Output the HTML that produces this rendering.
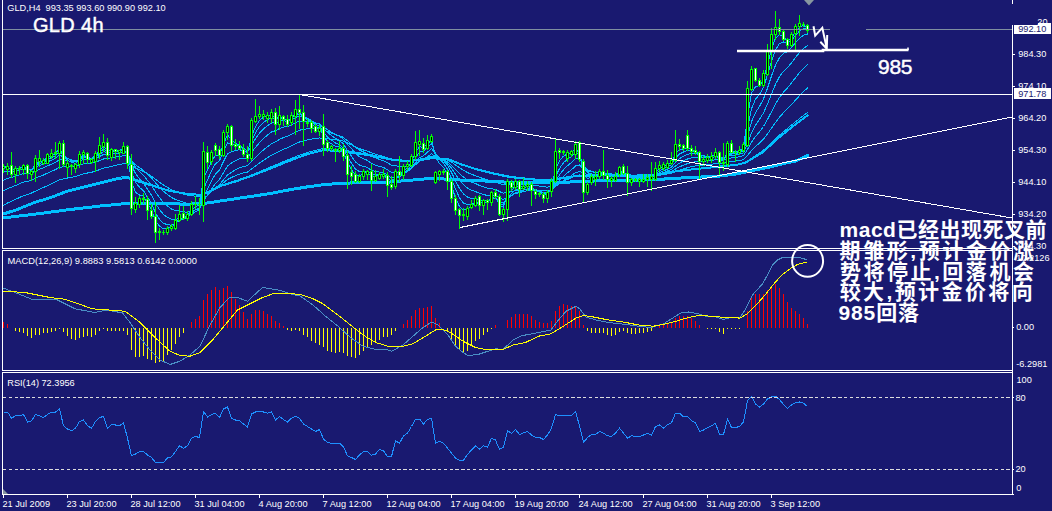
<!DOCTYPE html>
<html><head><meta charset="utf-8"><title>GLD H4</title>
<style>
html,body{margin:0;padding:0;background:#191970;}
body{width:1052px;height:511px;overflow:hidden;position:relative;font-family:"Liberation Sans",sans-serif;}
svg{position:absolute;left:0;top:0;display:block}
svg text{font-family:"Liberation Sans",sans-serif;font-size:9.2px;}
</style></head><body>
<svg width="1052" height="511" viewBox="0 0 1052 511">
<rect width="1052" height="511" fill="#191970"/>
<g id="ma" shape-rendering="crispEdges" fill="none" stroke="#00bfff" stroke-linejoin="round" stroke-linecap="round">
<polyline points="3.7,217.8 33.5,214.4 66.9,209.9 100.4,206.0 127.2,203.4 150.6,203.5 175.7,203.9 186.9,204.2 203.7,203.5 220.4,201.0 237.1,198.5 253.8,196.0 270.6,193.5 290.0,189.7 306.7,187.0 323.5,184.7 340.2,183.3 356.9,182.8 373.7,182.3 390.4,182.0 407.1,180.5 423.8,179.0 440.6,178.8 460.0,180.0 476.7,180.5 493.5,181.5 510.2,182.3 526.9,182.7 543.7,182.7 560.4,182.3 577.1,181.8 593.8,181.0 610.6,180.6 620.0,180.8 636.7,180.2 653.5,179.8 670.2,178.6 686.9,177.7 703.7,176.9 720.4,176.0 737.1,173.9 753.8,170.2 770.6,166.8 787.3,162.7 795.7,161.0 807.5,155.6" stroke-width="3"/>
<polyline points="3.7,214.4 16.7,210.2 33.5,203.2 50.2,198.2 66.9,191.8 83.7,187.6 100.4,183.5 117.1,179.3 127.2,177.8 136.7,181.0 153.5,186.0 170.2,191.0 186.9,193.8 200.3,194.8 207.0,192.7 220.4,186.0 237.1,181.0 253.8,175.1 270.6,168.4 287.3,161.7 295.7,158.4 306.7,154.4 323.5,150.2 340.2,151.0 356.9,153.5 373.7,156.0 390.4,159.4 407.1,161.0 417.1,160.2 432.2,158.2 448.9,159.4 460.0,164.0 476.7,169.3 493.5,173.5 510.2,176.8 526.9,178.8 543.7,180.2 553.7,179.8 560.4,178.2 577.1,176.0 593.8,175.2 610.6,175.5 620.0,176.0 636.7,175.5 653.5,174.9 670.2,172.2 686.9,169.9 703.7,168.2 720.4,166.5 737.1,164.8 745.5,162.7 753.8,157.6 762.2,152.6 770.6,145.1 778.9,137.6 787.3,130.9 795.7,124.2 807.5,115.5" stroke-width="2"/>
<polyline points="3.5,167.0 7.5,166.5 11.5,170.0 15.5,168.8 19.5,168.2 23.5,166.6 27.5,169.6 31.5,170.3 35.5,164.4 39.5,161.4 43.5,160.7 47.5,157.5 51.5,155.4 55.5,153.6 59.5,148.5 63.5,156.4 67.5,159.9 71.5,162.5 75.5,163.4 79.5,158.8 83.5,155.2 87.5,157.3 91.5,158.3 95.5,155.4 99.5,150.2 103.5,146.4 107.5,150.7 111.5,150.0 115.5,150.4 119.5,150.4 123.5,148.2 127.5,155.8 131.5,181.8 135.5,192.2 139.5,195.0 143.5,196.3 147.5,203.2 151.5,209.7 155.5,221.1 159.5,226.2 163.5,228.8 167.5,228.2 171.5,227.2 175.5,223.6 179.5,218.7 183.5,218.1 187.5,215.9 191.5,209.8 195.5,206.7 199.5,205.2 203.5,178.2 207.5,170.4 211.5,161.2 215.5,155.3 219.5,155.2 223.5,143.8 227.5,135.0 231.5,140.0 235.5,143.1 239.5,145.3 243.5,149.5 247.5,153.5 251.5,136.8 255.5,126.5 259.5,120.4 263.5,117.1 267.5,116.0 271.5,114.3 275.5,119.0 279.5,117.0 283.5,117.9 287.5,120.8 291.5,117.9 295.5,113.3 299.5,112.9 303.5,117.1 307.5,119.6 311.5,123.6 315.5,127.4 319.5,127.5 323.5,135.6 327.5,141.6 331.5,143.9 335.5,146.3 339.5,146.9 343.5,151.6 347.5,162.7 351.5,169.5 355.5,175.4 359.5,175.8 363.5,173.5 367.5,172.4 371.5,176.2 375.5,176.2 379.5,175.0 383.5,174.4 387.5,179.7 391.5,183.3 395.5,177.3 399.5,176.1 403.5,171.2 407.5,167.5 411.5,161.9 415.5,152.1 419.5,146.7 423.5,147.7 427.5,143.7 431.5,140.0 435.5,156.2 439.5,163.7 443.5,167.2 447.5,174.2 451.5,185.9 455.5,197.9 459.5,206.5 463.5,210.1 467.5,208.8 471.5,206.7 475.5,202.3 479.5,203.7 483.5,202.1 487.5,202.3 491.5,197.4 495.5,196.8 499.5,205.3 503.5,207.0 507.5,194.1 511.5,190.6 515.5,185.7 519.5,187.2 523.5,186.4 527.5,185.1 531.5,187.5 535.5,191.0 539.5,192.1 543.5,195.1 547.5,193.5 551.5,187.4 555.5,169.3 559.5,160.9 563.5,156.1 567.5,154.0 571.5,152.6 575.5,148.2 579.5,153.5 583.5,173.0 587.5,178.4 591.5,177.3 595.5,176.8 599.5,173.8 603.5,174.4 607.5,176.6 611.5,177.0 615.5,176.3 619.5,171.6 623.5,172.2 627.5,177.3 631.5,178.0 635.5,178.4 639.5,178.8 643.5,178.8 647.5,177.9 651.5,176.7 655.5,172.1 659.5,168.5 663.5,166.5 667.5,164.8 671.5,162.4 675.5,153.4 679.5,149.8 683.5,148.9 687.5,148.2 691.5,149.7 695.5,151.1 699.5,156.2 703.5,157.5 707.5,157.2 711.5,156.7 715.5,154.4 719.5,158.4 723.5,160.4 727.5,151.7 731.5,151.9 735.5,151.8 739.5,150.9 743.5,147.7 747.5,117.6 751.5,93.2 755.5,86.6 759.5,85.8 763.5,79.4 767.5,64.7 771.5,49.2 775.5,38.1 779.5,34.7 783.5,36.7 787.5,40.9 791.5,37.7 795.5,31.6 799.5,27.3 803.5,25.4 807.5,27.7" stroke-width="1"/>
<polyline points="3.5,168.0 7.5,167.3 11.5,169.4 15.5,168.8 19.5,168.4 23.5,167.3 27.5,169.1 31.5,169.7 35.5,165.9 39.5,163.4 43.5,162.3 47.5,159.6 51.5,157.5 55.5,155.6 59.5,151.5 63.5,155.8 67.5,158.3 71.5,160.6 75.5,161.8 79.5,159.3 83.5,156.8 87.5,157.6 91.5,158.2 95.5,156.3 99.5,152.5 103.5,149.2 107.5,151.2 111.5,150.5 115.5,150.6 119.5,150.6 123.5,149.0 127.5,153.8 131.5,171.8 135.5,182.1 139.5,187.3 143.5,190.8 147.5,197.2 151.5,203.5 155.5,213.2 159.5,219.2 163.5,223.3 167.5,224.7 171.5,225.2 175.5,223.5 179.5,220.2 183.5,219.3 187.5,217.5 191.5,212.9 195.5,209.8 199.5,207.7 203.5,188.9 207.5,180.1 211.5,170.7 215.5,163.7 219.5,160.8 223.5,151.3 227.5,143.0 231.5,143.7 235.5,144.5 239.5,145.5 243.5,148.3 247.5,151.3 251.5,140.9 255.5,132.7 259.5,126.5 263.5,122.3 267.5,119.8 271.5,117.4 275.5,119.5 279.5,118.0 283.5,118.3 287.5,120.1 291.5,118.4 295.5,115.2 299.5,114.3 303.5,116.6 307.5,118.5 311.5,121.5 315.5,124.7 319.5,125.7 323.5,131.7 327.5,137.0 331.5,140.1 335.5,143.0 339.5,144.5 343.5,148.4 347.5,156.8 351.5,163.3 355.5,169.3 359.5,171.6 363.5,171.5 367.5,171.4 371.5,174.3 375.5,174.9 379.5,174.5 383.5,174.3 387.5,177.9 391.5,180.9 395.5,177.7 399.5,176.8 403.5,173.3 407.5,170.1 411.5,165.5 415.5,157.7 419.5,152.2 423.5,151.1 427.5,147.3 431.5,143.6 435.5,153.2 439.5,159.2 443.5,163.1 447.5,169.1 451.5,178.6 455.5,189.1 459.5,197.7 463.5,203.1 467.5,204.5 471.5,204.5 475.5,202.4 479.5,203.2 483.5,202.3 487.5,202.4 491.5,199.1 495.5,198.1 499.5,203.3 503.5,205.1 507.5,197.2 511.5,193.8 515.5,189.4 519.5,189.2 523.5,188.0 527.5,186.6 531.5,187.7 535.5,190.0 539.5,191.1 543.5,193.4 547.5,192.9 551.5,189.0 555.5,176.4 559.5,168.5 563.5,162.7 567.5,159.1 571.5,156.5 575.5,152.3 579.5,154.4 583.5,167.1 587.5,172.7 591.5,173.9 595.5,174.7 599.5,173.4 603.5,173.9 607.5,175.5 611.5,176.2 615.5,176.0 619.5,173.0 623.5,172.9 627.5,176.1 631.5,177.0 635.5,177.6 639.5,178.1 643.5,178.3 647.5,177.9 651.5,177.1 655.5,173.9 659.5,170.9 663.5,168.8 667.5,166.9 671.5,164.6 675.5,157.9 679.5,154.0 683.5,152.0 687.5,150.5 691.5,150.8 695.5,151.3 699.5,154.6 703.5,156.0 707.5,156.3 711.5,156.3 715.5,154.9 719.5,157.4 723.5,159.1 727.5,153.7 731.5,153.1 735.5,152.7 739.5,151.8 743.5,149.4 747.5,128.7 751.5,108.7 755.5,99.2 759.5,94.4 763.5,87.3 767.5,74.9 771.5,61.2 775.5,49.8 779.5,43.6 783.5,42.0 787.5,43.0 791.5,40.2 795.5,35.3 799.5,31.2 803.5,28.6 807.5,29.1" stroke-width="1"/>
<polyline points="3.5,172.3 7.5,170.9 11.5,171.5 15.5,170.6 19.5,169.9 23.5,168.9 27.5,169.7 31.5,170.0 35.5,167.4 39.5,165.4 43.5,164.2 47.5,162.0 51.5,160.1 55.5,158.2 59.5,154.9 63.5,157.0 67.5,158.4 71.5,159.9 75.5,160.9 79.5,159.4 83.5,157.7 87.5,158.0 91.5,158.3 95.5,157.1 99.5,154.4 103.5,151.7 107.5,152.5 111.5,151.8 115.5,151.6 119.5,151.3 123.5,150.1 127.5,153.1 131.5,165.2 135.5,173.6 139.5,178.9 143.5,183.1 147.5,189.1 151.5,195.1 155.5,203.4 159.5,209.6 163.5,214.5 167.5,217.4 171.5,219.3 175.5,219.5 179.5,218.2 183.5,218.0 187.5,217.1 191.5,214.1 195.5,211.8 199.5,210.0 203.5,196.9 207.5,189.3 211.5,181.0 215.5,174.0 219.5,169.8 223.5,161.5 227.5,153.7 231.5,151.7 235.5,150.5 239.5,149.8 243.5,150.7 247.5,152.2 251.5,145.1 255.5,138.7 259.5,133.2 263.5,128.9 267.5,125.8 271.5,122.9 275.5,123.1 279.5,121.3 283.5,120.7 287.5,121.4 291.5,120.0 295.5,117.5 299.5,116.4 303.5,117.5 307.5,118.5 311.5,120.5 315.5,122.9 319.5,123.9 323.5,128.3 327.5,132.6 331.5,135.6 335.5,138.5 339.5,140.5 343.5,144.0 347.5,150.6 351.5,156.3 355.5,161.9 359.5,165.1 363.5,166.4 367.5,167.5 371.5,170.3 375.5,171.6 379.5,172.1 383.5,172.5 387.5,175.2 391.5,177.9 395.5,176.4 399.5,176.1 403.5,173.9 407.5,171.6 411.5,168.2 415.5,162.4 419.5,157.7 423.5,155.7 427.5,152.2 431.5,148.6 435.5,153.9 439.5,157.8 443.5,160.7 447.5,165.2 451.5,172.4 455.5,180.8 459.5,188.4 463.5,194.0 467.5,197.0 471.5,198.7 475.5,198.5 479.5,200.0 483.5,200.1 487.5,200.6 491.5,198.8 495.5,198.2 499.5,201.7 503.5,203.3 507.5,198.4 511.5,195.8 515.5,192.5 519.5,191.7 523.5,190.3 527.5,188.8 531.5,189.1 535.5,190.3 539.5,191.0 543.5,192.5 547.5,192.4 551.5,189.9 555.5,181.3 559.5,174.9 563.5,169.7 567.5,165.7 571.5,162.5 575.5,158.3 579.5,158.4 583.5,166.0 587.5,169.9 591.5,171.3 595.5,172.4 599.5,172.1 603.5,172.7 607.5,174.1 611.5,174.8 615.5,175.0 619.5,173.2 623.5,173.1 627.5,175.2 631.5,176.0 635.5,176.6 639.5,177.2 643.5,177.5 647.5,177.4 651.5,177.0 655.5,174.9 659.5,172.7 663.5,170.9 667.5,169.1 671.5,167.1 675.5,162.1 679.5,158.6 683.5,156.2 687.5,154.3 691.5,153.6 695.5,153.4 699.5,155.1 703.5,155.9 707.5,156.2 711.5,156.2 715.5,155.3 719.5,156.9 723.5,158.1 727.5,154.7 731.5,154.1 735.5,153.6 739.5,152.8 743.5,151.0 747.5,136.9 751.5,121.7 755.5,112.5 759.5,106.4 763.5,98.9 767.5,88.1 771.5,76.0 775.5,65.1 779.5,57.6 783.5,53.4 787.5,51.5 791.5,47.7 795.5,42.8 799.5,38.4 803.5,35.1 807.5,34.0" stroke-width="1"/>
<polyline points="3.5,180.3 7.5,178.3 11.5,177.6 15.5,176.2 19.5,174.9 23.5,173.5 27.5,173.4 31.5,173.1 35.5,171.0 39.5,169.2 43.5,167.9 47.5,165.9 51.5,164.1 55.5,162.4 59.5,159.6 63.5,160.3 67.5,160.8 71.5,161.4 75.5,161.8 79.5,160.7 83.5,159.4 87.5,159.4 91.5,159.4 95.5,158.4 99.5,156.5 103.5,154.5 107.5,154.6 111.5,153.8 115.5,153.4 119.5,153.0 123.5,152.0 127.5,153.6 131.5,161.3 135.5,167.2 139.5,171.6 143.5,175.3 147.5,180.3 151.5,185.4 155.5,192.1 159.5,197.7 163.5,202.6 167.5,206.1 171.5,209.0 175.5,210.6 179.5,211.0 183.5,211.9 187.5,212.2 191.5,211.0 195.5,209.9 199.5,209.0 203.5,200.8 207.5,195.3 211.5,189.1 215.5,183.5 219.5,179.4 223.5,172.7 227.5,166.1 231.5,163.1 235.5,160.7 239.5,158.8 243.5,158.1 247.5,158.0 251.5,152.6 255.5,147.4 259.5,142.6 263.5,138.5 267.5,135.1 271.5,131.9 275.5,130.7 279.5,128.5 283.5,127.1 287.5,126.6 291.5,125.0 295.5,122.6 299.5,121.2 303.5,121.2 307.5,121.3 311.5,122.2 315.5,123.5 319.5,124.1 323.5,126.9 327.5,129.8 331.5,132.2 335.5,134.5 339.5,136.4 343.5,139.2 347.5,144.2 351.5,148.7 355.5,153.4 359.5,156.7 363.5,158.7 367.5,160.5 371.5,163.3 375.5,165.2 379.5,166.4 383.5,167.4 387.5,169.9 391.5,172.4 395.5,172.2 399.5,172.6 403.5,171.7 407.5,170.6 411.5,168.5 415.5,164.8 419.5,161.4 423.5,159.6 427.5,156.8 431.5,153.8 435.5,156.5 439.5,158.6 443.5,160.3 447.5,163.3 451.5,168.2 455.5,174.2 459.5,180.0 463.5,184.8 467.5,188.1 471.5,190.4 475.5,191.5 479.5,193.4 483.5,194.4 487.5,195.6 491.5,195.2 495.5,195.3 499.5,197.9 503.5,199.5 507.5,196.9 511.5,195.5 515.5,193.4 519.5,192.7 523.5,191.7 527.5,190.5 531.5,190.5 535.5,191.0 539.5,191.4 543.5,192.3 547.5,192.3 551.5,190.7 555.5,185.1 559.5,180.4 563.5,176.2 567.5,172.8 571.5,169.7 575.5,166.0 579.5,165.0 583.5,168.9 587.5,171.0 591.5,171.8 595.5,172.4 599.5,172.2 603.5,172.6 607.5,173.5 611.5,174.0 615.5,174.2 619.5,173.2 623.5,173.1 627.5,174.5 631.5,175.1 635.5,175.6 639.5,176.1 643.5,176.5 647.5,176.6 651.5,176.4 655.5,175.1 659.5,173.7 663.5,172.4 667.5,171.0 671.5,169.5 675.5,165.9 679.5,163.1 683.5,160.9 687.5,159.0 691.5,157.9 695.5,157.1 699.5,157.7 703.5,157.9 707.5,157.7 711.5,157.5 715.5,156.7 719.5,157.6 723.5,158.3 727.5,156.1 731.5,155.5 735.5,155.0 739.5,154.3 743.5,152.9 747.5,143.5 751.5,132.8 755.5,125.3 759.5,119.5 763.5,112.9 767.5,103.9 771.5,93.9 775.5,84.3 779.5,76.7 783.5,71.3 787.5,67.6 791.5,62.8 795.5,57.5 799.5,52.6 803.5,48.4 807.5,45.8" stroke-width="1"/>
<polyline points="3.5,190.9 7.5,188.6 11.5,187.3 15.5,185.5 19.5,183.8 23.5,182.1 27.5,181.3 31.5,180.3 35.5,178.3 39.5,176.5 43.5,175.0 47.5,173.1 51.5,171.4 55.5,169.6 59.5,167.2 63.5,166.9 67.5,166.6 71.5,166.5 75.5,166.3 79.5,165.2 83.5,163.9 87.5,163.5 91.5,163.1 95.5,162.2 99.5,160.6 103.5,159.0 107.5,158.6 111.5,157.8 115.5,157.1 119.5,156.5 123.5,155.6 127.5,156.3 131.5,161.0 135.5,164.8 139.5,167.7 143.5,170.5 147.5,174.1 151.5,177.9 155.5,182.9 159.5,187.3 163.5,191.3 167.5,194.6 171.5,197.5 175.5,199.5 179.5,200.8 183.5,202.3 187.5,203.4 191.5,203.4 195.5,203.4 199.5,203.4 203.5,198.7 207.5,195.4 211.5,191.4 215.5,187.6 219.5,184.7 223.5,179.9 227.5,175.0 231.5,172.3 235.5,169.9 239.5,167.9 243.5,166.6 247.5,165.8 251.5,161.6 255.5,157.5 259.5,153.6 263.5,149.9 267.5,146.8 271.5,143.7 275.5,141.8 279.5,139.4 283.5,137.5 287.5,136.3 291.5,134.3 295.5,132.0 299.5,130.2 303.5,129.4 307.5,128.8 311.5,128.7 315.5,128.9 319.5,128.8 323.5,130.1 327.5,131.7 331.5,133.0 335.5,134.5 339.5,135.6 343.5,137.5 347.5,140.8 351.5,144.0 355.5,147.4 359.5,150.0 363.5,152.0 367.5,153.7 371.5,156.1 375.5,157.9 379.5,159.4 383.5,160.7 387.5,162.9 391.5,165.1 395.5,165.6 399.5,166.5 403.5,166.5 407.5,166.2 411.5,165.3 415.5,163.2 419.5,161.2 423.5,160.1 427.5,158.2 431.5,156.2 435.5,157.7 439.5,158.9 443.5,160.0 447.5,162.0 451.5,165.2 455.5,169.3 459.5,173.4 463.5,177.1 467.5,179.9 471.5,182.1 475.5,183.5 479.5,185.5 483.5,186.9 487.5,188.3 491.5,188.7 495.5,189.4 499.5,191.6 503.5,193.1 507.5,192.1 511.5,191.6 515.5,190.6 519.5,190.4 523.5,190.0 527.5,189.4 531.5,189.5 535.5,189.9 539.5,190.2 543.5,190.9 547.5,191.0 551.5,190.1 555.5,186.6 559.5,183.5 563.5,180.6 567.5,178.0 571.5,175.5 575.5,172.7 579.5,171.4 583.5,173.3 587.5,174.3 591.5,174.4 595.5,174.6 599.5,174.3 603.5,174.3 607.5,174.7 611.5,175.0 615.5,175.0 619.5,174.3 623.5,174.2 627.5,174.9 631.5,175.3 635.5,175.6 639.5,175.9 643.5,176.2 647.5,176.2 651.5,176.2 655.5,175.4 659.5,174.4 663.5,173.5 667.5,172.6 671.5,171.4 675.5,169.0 679.5,166.9 683.5,165.2 687.5,163.6 691.5,162.5 695.5,161.6 699.5,161.5 703.5,161.3 707.5,160.9 711.5,160.5 715.5,159.7 719.5,160.0 723.5,160.2 727.5,158.6 731.5,158.0 735.5,157.4 739.5,156.8 743.5,155.7 747.5,149.5 751.5,142.1 755.5,136.5 759.5,131.8 763.5,126.5 767.5,119.5 771.5,111.7 775.5,104.0 779.5,97.4 783.5,92.1 787.5,87.8 791.5,82.9 795.5,77.7 799.5,72.7 803.5,68.3 807.5,64.8" stroke-width="1"/>
<polyline points="3.5,205.2 7.5,203.0 11.5,201.3 15.5,199.4 19.5,197.5 23.5,195.7 27.5,194.4 31.5,193.0 35.5,191.1 39.5,189.2 43.5,187.5 47.5,185.6 51.5,183.8 55.5,181.9 59.5,179.7 63.5,178.9 67.5,178.0 71.5,177.2 75.5,176.5 79.5,175.2 83.5,173.9 87.5,173.0 91.5,172.3 95.5,171.1 99.5,169.6 103.5,168.1 107.5,167.4 111.5,166.3 115.5,165.4 119.5,164.6 123.5,163.5 127.5,163.5 131.5,166.0 135.5,168.1 139.5,169.8 143.5,171.4 147.5,173.6 151.5,176.1 155.5,179.3 159.5,182.2 163.5,185.1 167.5,187.5 171.5,189.7 175.5,191.4 179.5,192.7 183.5,194.1 187.5,195.2 191.5,195.7 195.5,196.2 199.5,196.6 203.5,194.0 207.5,192.2 211.5,189.9 215.5,187.6 219.5,185.7 223.5,182.7 227.5,179.5 231.5,177.5 235.5,175.7 239.5,174.1 243.5,172.9 247.5,172.1 251.5,169.1 255.5,166.1 259.5,163.1 263.5,160.3 267.5,157.7 271.5,155.1 275.5,153.3 279.5,151.1 283.5,149.3 287.5,147.8 291.5,145.9 295.5,143.8 299.5,142.0 303.5,140.8 307.5,139.8 311.5,139.1 315.5,138.6 319.5,138.0 323.5,138.3 327.5,138.8 331.5,139.3 335.5,139.8 339.5,140.3 343.5,141.2 347.5,143.0 351.5,144.9 355.5,147.0 359.5,148.7 363.5,150.0 367.5,151.2 371.5,152.8 375.5,154.2 379.5,155.3 383.5,156.3 387.5,158.0 391.5,159.6 395.5,160.3 399.5,161.1 403.5,161.4 407.5,161.6 411.5,161.3 415.5,160.2 419.5,159.1 423.5,158.5 427.5,157.4 431.5,156.2 435.5,157.1 439.5,158.0 443.5,158.7 447.5,160.0 451.5,162.1 455.5,164.9 459.5,167.7 463.5,170.4 467.5,172.5 471.5,174.3 475.5,175.7 479.5,177.3 483.5,178.7 487.5,180.0 491.5,180.7 495.5,181.6 499.5,183.5 503.5,184.9 507.5,184.7 511.5,184.8 515.5,184.6 519.5,184.8 523.5,184.9 527.5,184.8 531.5,185.1 535.5,185.6 539.5,186.1 543.5,186.8 547.5,187.1 551.5,186.7 555.5,184.7 559.5,182.9 563.5,181.1 567.5,179.4 571.5,177.8 575.5,175.8 579.5,174.9 583.5,175.9 587.5,176.3 591.5,176.3 595.5,176.3 599.5,176.0 603.5,175.9 607.5,176.1 611.5,176.2 615.5,176.1 619.5,175.6 623.5,175.5 627.5,175.9 631.5,176.0 635.5,176.2 639.5,176.4 643.5,176.5 647.5,176.5 651.5,176.5 655.5,175.9 659.5,175.3 663.5,174.7 667.5,174.0 671.5,173.2 675.5,171.6 679.5,170.1 683.5,168.9 687.5,167.7 691.5,166.7 695.5,165.9 699.5,165.6 703.5,165.2 707.5,164.8 711.5,164.3 715.5,163.6 719.5,163.5 723.5,163.5 727.5,162.3 731.5,161.7 735.5,161.1 739.5,160.5 743.5,159.6 747.5,155.5 751.5,150.5 755.5,146.5 759.5,143.0 763.5,139.0 767.5,133.9 771.5,128.2 775.5,122.4 779.5,117.2 783.5,112.7 787.5,108.8 791.5,104.6 795.5,100.1 799.5,95.7 803.5,91.5 807.5,88.0" stroke-width="1"/>
<polyline points="3.5,212.8 7.5,211.6 11.5,210.4 15.5,209.1 19.5,207.6 23.5,205.9 27.5,204.3 31.5,202.7 35.5,201.2 39.5,200.0 43.5,198.8 47.5,197.6 51.5,196.3 55.5,194.7 59.5,193.1 63.5,191.6 67.5,190.1 71.5,189.2 75.5,188.2 79.5,187.1 83.5,186.1 87.5,185.1 91.5,184.2 95.5,183.2 99.5,182.2 103.5,181.1 107.5,180.1 111.5,179.1 115.5,178.1 119.5,177.3 123.5,176.7 127.5,176.3 131.5,177.8 135.5,179.2 139.5,180.6 143.5,181.8 147.5,183.2 151.5,184.5 155.5,185.8 159.5,187.2 163.5,188.5 167.5,189.8 171.5,190.9 175.5,191.7 179.5,192.4 183.5,193.2 187.5,193.8 191.5,194.1 195.5,194.5 199.5,194.8 203.5,193.7 207.5,192.3 211.5,190.2 215.5,188.2 219.5,186.1 223.5,184.6 227.5,183.3 231.5,182.0 235.5,180.7 239.5,179.4 243.5,177.9 247.5,176.5 251.5,175.0 255.5,173.4 259.5,171.7 263.5,170.0 267.5,168.3 271.5,166.6 275.5,165.0 279.5,163.3 283.5,161.6 287.5,160.0 291.5,158.4 295.5,156.7 299.5,155.2 303.5,153.8 307.5,152.4 311.5,151.4 315.5,150.4 319.5,149.4 323.5,148.4 327.5,148.7 331.5,148.9 335.5,149.2 339.5,149.4 343.5,150.0 347.5,150.7 351.5,151.4 355.5,152.1 359.5,152.8 363.5,153.5 367.5,154.2 371.5,154.8 375.5,155.6 379.5,156.5 383.5,157.4 387.5,158.3 391.5,159.1 395.5,159.5 399.5,159.9 403.5,160.3 407.5,160.7 411.5,160.3 415.5,160.0 419.5,159.5 423.5,159.0 427.5,158.4 431.5,157.8 435.5,158.0 439.5,158.4 443.5,158.7 447.5,159.0 451.5,160.3 455.5,162.1 459.5,163.9 463.5,165.3 467.5,166.7 471.5,168.0 475.5,169.3 479.5,170.5 483.5,171.5 487.5,172.6 491.5,173.6 495.5,174.5 499.5,175.4 503.5,176.2 507.5,177.0 511.5,177.7 515.5,178.2 519.5,178.6 523.5,179.1 527.5,179.6 531.5,179.9 535.5,180.2 539.5,180.6 543.5,180.9 547.5,180.8 551.5,180.6 555.5,180.0 559.5,179.0 563.5,178.3 567.5,177.7 571.5,177.0 575.5,176.4 579.5,176.1 583.5,175.9 587.5,175.7 591.5,175.5 595.5,175.4 599.5,175.5 603.5,175.6 607.5,175.6 611.5,175.7 615.5,175.9 619.5,176.1 623.5,176.0 627.5,175.9 631.5,175.8 635.5,175.7 639.5,175.6 643.5,175.4 647.5,175.3 651.5,175.1 655.5,174.7 659.5,174.0 663.5,173.4 667.5,172.7 671.5,172.0 675.5,171.4 679.5,170.8 683.5,170.2 687.5,169.6 691.5,169.2 695.5,168.7 699.5,168.3 703.5,167.9 707.5,167.5 711.5,167.1 715.5,166.6 719.5,166.2 723.5,165.8 727.5,165.4 731.5,164.9 735.5,164.5 739.5,163.7 743.5,162.7 747.5,160.8 751.5,158.2 755.5,155.6 759.5,153.1 763.5,150.2 767.5,146.4 771.5,142.6 775.5,138.8 779.5,135.0 783.5,131.7 787.5,128.4 791.5,125.0 795.5,121.7 799.5,118.6 803.5,115.5 807.5,112.5" stroke-width="1"/>
</g>
<g id="candles" shape-rendering="crispEdges">
<rect x="3" y="164" width="1" height="9" fill="#00ff00"/><rect x="2" y="166" width="3" height="3" fill="#00ff00"/><rect x="3" y="167" width="1" height="1" fill="#000"/><rect x="7" y="163" width="1" height="12" fill="#00ff00"/><rect x="6" y="166" width="3" height="4" fill="#00ff00"/><rect x="7" y="167" width="1" height="2" fill="#000"/><rect x="11" y="152" width="1" height="26" fill="#00ff00"/><rect x="10" y="165" width="3" height="10" fill="#00ff00"/><rect x="11" y="166" width="1" height="8" fill="#ffffff"/><rect x="15" y="166" width="1" height="17" fill="#00ff00"/><rect x="14" y="168" width="3" height="7" fill="#00ff00"/><rect x="15" y="169" width="1" height="5" fill="#000"/><rect x="19" y="166" width="1" height="9" fill="#00ff00"/><rect x="18" y="168" width="3" height="2" fill="#00ff00"/><rect x="23" y="164" width="1" height="11" fill="#00ff00"/><rect x="22" y="165" width="3" height="5" fill="#00ff00"/><rect x="23" y="166" width="1" height="3" fill="#000"/><rect x="27" y="164" width="1" height="15" fill="#00ff00"/><rect x="26" y="165" width="3" height="9" fill="#00ff00"/><rect x="27" y="166" width="1" height="7" fill="#ffffff"/><rect x="31" y="170" width="1" height="11" fill="#00ff00"/><rect x="30" y="171" width="3" height="4" fill="#00ff00"/><rect x="31" y="172" width="1" height="2" fill="#000"/><rect x="35" y="155" width="1" height="27" fill="#00ff00"/><rect x="34" y="158" width="3" height="14" fill="#00ff00"/><rect x="35" y="159" width="1" height="12" fill="#000"/><rect x="39" y="150" width="1" height="17" fill="#00ff00"/><rect x="38" y="158" width="3" height="4" fill="#00ff00"/><rect x="39" y="159" width="1" height="2" fill="#000"/><rect x="43" y="158" width="1" height="7" fill="#00ff00"/><rect x="42" y="160" width="3" height="4" fill="#00ff00"/><rect x="43" y="161" width="1" height="2" fill="#000"/><rect x="47" y="153" width="1" height="11" fill="#00ff00"/><rect x="46" y="154" width="3" height="10" fill="#00ff00"/><rect x="47" y="155" width="1" height="8" fill="#000"/><rect x="51" y="149" width="1" height="10" fill="#00ff00"/><rect x="50" y="153" width="3" height="4" fill="#00ff00"/><rect x="51" y="154" width="1" height="2" fill="#000"/><rect x="55" y="142" width="1" height="17" fill="#00ff00"/><rect x="54" y="152" width="3" height="2" fill="#00ff00"/><rect x="59" y="141" width="1" height="28" fill="#00ff00"/><rect x="58" y="143" width="3" height="11" fill="#00ff00"/><rect x="59" y="144" width="1" height="9" fill="#000"/><rect x="63" y="140" width="1" height="27" fill="#00ff00"/><rect x="62" y="143" width="3" height="22" fill="#00ff00"/><rect x="63" y="144" width="1" height="20" fill="#ffffff"/><rect x="67" y="160" width="1" height="17" fill="#00ff00"/><rect x="66" y="163" width="3" height="5" fill="#00ff00"/><rect x="67" y="164" width="1" height="3" fill="#000"/><rect x="71" y="164" width="1" height="11" fill="#00ff00"/><rect x="70" y="165" width="3" height="2" fill="#00ff00"/><rect x="75" y="163" width="1" height="10" fill="#00ff00"/><rect x="74" y="164" width="3" height="5" fill="#00ff00"/><rect x="75" y="165" width="1" height="3" fill="#000"/><rect x="79" y="151" width="1" height="17" fill="#00ff00"/><rect x="78" y="154" width="3" height="11" fill="#00ff00"/><rect x="79" y="155" width="1" height="9" fill="#000"/><rect x="83" y="150" width="1" height="14" fill="#00ff00"/><rect x="82" y="152" width="3" height="3" fill="#00ff00"/><rect x="83" y="153" width="1" height="1" fill="#000"/><rect x="87" y="152" width="1" height="12" fill="#00ff00"/><rect x="86" y="153" width="3" height="7" fill="#00ff00"/><rect x="87" y="154" width="1" height="5" fill="#ffffff"/><rect x="91" y="158" width="1" height="6" fill="#00ff00"/><rect x="90" y="159" width="3" height="4" fill="#00ff00"/><rect x="91" y="160" width="1" height="2" fill="#000"/><rect x="95" y="151" width="1" height="21" fill="#00ff00"/><rect x="94" y="153" width="3" height="9" fill="#00ff00"/><rect x="95" y="154" width="1" height="7" fill="#000"/><rect x="99" y="137" width="1" height="22" fill="#00ff00"/><rect x="98" y="145" width="3" height="9" fill="#00ff00"/><rect x="99" y="146" width="1" height="7" fill="#000"/><rect x="103" y="134" width="1" height="18" fill="#00ff00"/><rect x="102" y="142" width="3" height="5" fill="#00ff00"/><rect x="103" y="143" width="1" height="3" fill="#000"/><rect x="107" y="138" width="1" height="22" fill="#00ff00"/><rect x="106" y="142" width="3" height="14" fill="#00ff00"/><rect x="107" y="143" width="1" height="12" fill="#ffffff"/><rect x="111" y="148" width="1" height="13" fill="#00ff00"/><rect x="110" y="149" width="3" height="9" fill="#00ff00"/><rect x="111" y="150" width="1" height="7" fill="#000"/><rect x="115" y="149" width="1" height="10" fill="#00ff00"/><rect x="114" y="149" width="3" height="3" fill="#00ff00"/><rect x="115" y="150" width="1" height="1" fill="#ffffff"/><rect x="119" y="150" width="1" height="10" fill="#00ff00"/><rect x="118" y="150" width="3" height="3" fill="#00ff00"/><rect x="119" y="151" width="1" height="1" fill="#000"/><rect x="123" y="142" width="1" height="12" fill="#00ff00"/><rect x="122" y="146" width="3" height="8" fill="#00ff00"/><rect x="123" y="147" width="1" height="6" fill="#000"/><rect x="127" y="145" width="1" height="24" fill="#00ff00"/><rect x="126" y="146" width="3" height="18" fill="#00ff00"/><rect x="127" y="147" width="1" height="16" fill="#ffffff"/><rect x="131" y="154" width="1" height="61" fill="#00ff00"/><rect x="130" y="164" width="3" height="45" fill="#00ff00"/><rect x="131" y="165" width="1" height="43" fill="#ffffff"/><rect x="135" y="197" width="1" height="16" fill="#00ff00"/><rect x="134" y="203" width="3" height="7" fill="#00ff00"/><rect x="135" y="204" width="1" height="5" fill="#000"/><rect x="139" y="196" width="1" height="12" fill="#00ff00"/><rect x="138" y="198" width="3" height="7" fill="#00ff00"/><rect x="139" y="199" width="1" height="5" fill="#000"/><rect x="143" y="193" width="1" height="11" fill="#00ff00"/><rect x="142" y="198" width="3" height="2" fill="#00ff00"/><rect x="147" y="196" width="1" height="24" fill="#00ff00"/><rect x="146" y="199" width="3" height="12" fill="#00ff00"/><rect x="147" y="200" width="1" height="10" fill="#ffffff"/><rect x="151" y="204" width="1" height="15" fill="#00ff00"/><rect x="150" y="210" width="3" height="7" fill="#00ff00"/><rect x="151" y="211" width="1" height="5" fill="#ffffff"/><rect x="155" y="202" width="1" height="41" fill="#00ff00"/><rect x="154" y="216" width="3" height="17" fill="#00ff00"/><rect x="155" y="217" width="1" height="15" fill="#ffffff"/><rect x="159" y="228" width="1" height="12" fill="#00ff00"/><rect x="158" y="231" width="3" height="2" fill="#00ff00"/><rect x="163" y="230" width="1" height="5" fill="#00ff00"/><rect x="162" y="232" width="3" height="1" fill="#00ff00"/><rect x="167" y="226" width="1" height="9" fill="#00ff00"/><rect x="166" y="228" width="3" height="5" fill="#00ff00"/><rect x="167" y="229" width="1" height="3" fill="#000"/><rect x="171" y="224" width="1" height="7" fill="#00ff00"/><rect x="170" y="226" width="3" height="3" fill="#00ff00"/><rect x="171" y="227" width="1" height="1" fill="#000"/><rect x="175" y="214" width="1" height="16" fill="#00ff00"/><rect x="174" y="220" width="3" height="9" fill="#00ff00"/><rect x="175" y="221" width="1" height="7" fill="#000"/><rect x="179" y="205" width="1" height="17" fill="#00ff00"/><rect x="178" y="214" width="3" height="7" fill="#00ff00"/><rect x="179" y="215" width="1" height="5" fill="#000"/><rect x="183" y="206" width="1" height="14" fill="#00ff00"/><rect x="182" y="213" width="3" height="6" fill="#00ff00"/><rect x="183" y="214" width="1" height="4" fill="#ffffff"/><rect x="187" y="211" width="1" height="10" fill="#00ff00"/><rect x="186" y="214" width="3" height="5" fill="#00ff00"/><rect x="187" y="215" width="1" height="3" fill="#000"/><rect x="191" y="201" width="1" height="15" fill="#00ff00"/><rect x="190" y="204" width="3" height="11" fill="#00ff00"/><rect x="191" y="205" width="1" height="9" fill="#000"/><rect x="195" y="196" width="1" height="13" fill="#00ff00"/><rect x="194" y="204" width="3" height="1" fill="#00ff00"/><rect x="199" y="198" width="1" height="17" fill="#00ff00"/><rect x="198" y="204" width="3" height="1" fill="#00ff00"/><rect x="203" y="142" width="1" height="80" fill="#00ff00"/><rect x="202" y="151" width="3" height="55" fill="#00ff00"/><rect x="203" y="152" width="1" height="53" fill="#000"/><rect x="207" y="146" width="1" height="23" fill="#00ff00"/><rect x="206" y="152" width="3" height="11" fill="#00ff00"/><rect x="207" y="153" width="1" height="9" fill="#ffffff"/><rect x="211" y="150" width="1" height="15" fill="#00ff00"/><rect x="210" y="152" width="3" height="10" fill="#00ff00"/><rect x="211" y="153" width="1" height="8" fill="#000"/><rect x="215" y="143" width="1" height="13" fill="#00ff00"/><rect x="214" y="145" width="3" height="6" fill="#00ff00"/><rect x="215" y="146" width="1" height="4" fill="#ffffff"/><rect x="219" y="146" width="1" height="13" fill="#00ff00"/><rect x="218" y="149" width="3" height="7" fill="#00ff00"/><rect x="219" y="150" width="1" height="5" fill="#ffffff"/><rect x="223" y="130" width="1" height="27" fill="#00ff00"/><rect x="222" y="132" width="3" height="24" fill="#00ff00"/><rect x="223" y="133" width="1" height="22" fill="#000"/><rect x="227" y="124" width="1" height="16" fill="#00ff00"/><rect x="226" y="126" width="3" height="7" fill="#00ff00"/><rect x="227" y="127" width="1" height="5" fill="#000"/><rect x="231" y="125" width="1" height="26" fill="#00ff00"/><rect x="230" y="126" width="3" height="20" fill="#00ff00"/><rect x="231" y="127" width="1" height="18" fill="#ffffff"/><rect x="235" y="139" width="1" height="11" fill="#00ff00"/><rect x="234" y="144" width="3" height="3" fill="#00ff00"/><rect x="235" y="145" width="1" height="1" fill="#ffffff"/><rect x="239" y="141" width="1" height="9" fill="#00ff00"/><rect x="238" y="145" width="3" height="4" fill="#00ff00"/><rect x="239" y="146" width="1" height="2" fill="#ffffff"/><rect x="243" y="144" width="1" height="13" fill="#00ff00"/><rect x="242" y="149" width="3" height="6" fill="#00ff00"/><rect x="243" y="150" width="1" height="4" fill="#ffffff"/><rect x="247" y="146" width="1" height="16" fill="#00ff00"/><rect x="246" y="154" width="3" height="5" fill="#00ff00"/><rect x="247" y="155" width="1" height="3" fill="#ffffff"/><rect x="251" y="118" width="1" height="43" fill="#00ff00"/><rect x="250" y="120" width="3" height="39" fill="#00ff00"/><rect x="251" y="121" width="1" height="37" fill="#000"/><rect x="255" y="99" width="1" height="24" fill="#00ff00"/><rect x="254" y="116" width="3" height="6" fill="#00ff00"/><rect x="255" y="117" width="1" height="4" fill="#000"/><rect x="259" y="106" width="1" height="13" fill="#00ff00"/><rect x="258" y="114" width="3" height="3" fill="#00ff00"/><rect x="259" y="115" width="1" height="1" fill="#000"/><rect x="263" y="110" width="1" height="10" fill="#00ff00"/><rect x="262" y="114" width="3" height="3" fill="#00ff00"/><rect x="263" y="115" width="1" height="1" fill="#000"/><rect x="267" y="112" width="1" height="11" fill="#00ff00"/><rect x="266" y="115" width="3" height="4" fill="#00ff00"/><rect x="267" y="116" width="1" height="2" fill="#000"/><rect x="271" y="109" width="1" height="14" fill="#00ff00"/><rect x="270" y="112" width="3" height="7" fill="#00ff00"/><rect x="271" y="113" width="1" height="5" fill="#000"/><rect x="275" y="108" width="1" height="27" fill="#00ff00"/><rect x="274" y="112" width="3" height="13" fill="#00ff00"/><rect x="275" y="113" width="1" height="11" fill="#ffffff"/><rect x="279" y="106" width="1" height="24" fill="#00ff00"/><rect x="278" y="115" width="3" height="10" fill="#00ff00"/><rect x="279" y="116" width="1" height="8" fill="#000"/><rect x="283" y="115" width="1" height="11" fill="#00ff00"/><rect x="282" y="116" width="3" height="4" fill="#00ff00"/><rect x="283" y="117" width="1" height="2" fill="#ffffff"/><rect x="287" y="115" width="1" height="12" fill="#00ff00"/><rect x="286" y="119" width="3" height="6" fill="#00ff00"/><rect x="287" y="120" width="1" height="4" fill="#ffffff"/><rect x="291" y="112" width="1" height="14" fill="#00ff00"/><rect x="290" y="115" width="3" height="8" fill="#00ff00"/><rect x="291" y="116" width="1" height="6" fill="#000"/><rect x="295" y="100" width="1" height="35" fill="#00ff00"/><rect x="294" y="109" width="3" height="8" fill="#00ff00"/><rect x="295" y="110" width="1" height="6" fill="#000"/><rect x="299" y="94" width="1" height="35" fill="#00ff00"/><rect x="298" y="109" width="3" height="4" fill="#00ff00"/><rect x="299" y="110" width="1" height="2" fill="#ffffff"/><rect x="303" y="105" width="1" height="41" fill="#00ff00"/><rect x="302" y="112" width="3" height="10" fill="#00ff00"/><rect x="303" y="113" width="1" height="8" fill="#ffffff"/><rect x="307" y="119" width="1" height="8" fill="#00ff00"/><rect x="306" y="122" width="3" height="2" fill="#00ff00"/><rect x="311" y="120" width="1" height="13" fill="#00ff00"/><rect x="310" y="122" width="3" height="7" fill="#00ff00"/><rect x="311" y="123" width="1" height="5" fill="#ffffff"/><rect x="315" y="124" width="1" height="9" fill="#00ff00"/><rect x="314" y="126" width="3" height="6" fill="#00ff00"/><rect x="315" y="127" width="1" height="4" fill="#ffffff"/><rect x="319" y="125" width="1" height="11" fill="#00ff00"/><rect x="318" y="128" width="3" height="4" fill="#00ff00"/><rect x="319" y="129" width="1" height="2" fill="#000"/><rect x="323" y="114" width="1" height="42" fill="#00ff00"/><rect x="322" y="126" width="3" height="19" fill="#00ff00"/><rect x="323" y="127" width="1" height="17" fill="#ffffff"/><rect x="327" y="140" width="1" height="12" fill="#00ff00"/><rect x="326" y="142" width="3" height="7" fill="#00ff00"/><rect x="327" y="143" width="1" height="5" fill="#ffffff"/><rect x="331" y="145" width="1" height="6" fill="#00ff00"/><rect x="330" y="146" width="3" height="3" fill="#00ff00"/><rect x="331" y="147" width="1" height="1" fill="#000"/><rect x="335" y="148" width="1" height="14" fill="#00ff00"/><rect x="334" y="149" width="3" height="2" fill="#00ff00"/><rect x="339" y="141" width="1" height="12" fill="#00ff00"/><rect x="338" y="148" width="3" height="3" fill="#00ff00"/><rect x="339" y="149" width="1" height="1" fill="#000"/><rect x="343" y="144" width="1" height="17" fill="#00ff00"/><rect x="342" y="148" width="3" height="9" fill="#00ff00"/><rect x="343" y="149" width="1" height="7" fill="#ffffff"/><rect x="347" y="151" width="1" height="38" fill="#00ff00"/><rect x="346" y="155" width="3" height="20" fill="#00ff00"/><rect x="347" y="156" width="1" height="18" fill="#ffffff"/><rect x="351" y="166" width="1" height="19" fill="#00ff00"/><rect x="350" y="172" width="3" height="5" fill="#00ff00"/><rect x="351" y="173" width="1" height="3" fill="#ffffff"/><rect x="355" y="171" width="1" height="12" fill="#00ff00"/><rect x="354" y="174" width="3" height="8" fill="#00ff00"/><rect x="355" y="175" width="1" height="6" fill="#ffffff"/><rect x="359" y="174" width="1" height="9" fill="#00ff00"/><rect x="358" y="176" width="3" height="6" fill="#00ff00"/><rect x="359" y="177" width="1" height="4" fill="#000"/><rect x="363" y="169" width="1" height="11" fill="#00ff00"/><rect x="362" y="171" width="3" height="6" fill="#00ff00"/><rect x="363" y="172" width="1" height="4" fill="#000"/><rect x="367" y="170" width="1" height="10" fill="#00ff00"/><rect x="366" y="171" width="3" height="4" fill="#00ff00"/><rect x="367" y="172" width="1" height="2" fill="#000"/><rect x="371" y="164" width="1" height="27" fill="#00ff00"/><rect x="370" y="171" width="3" height="10" fill="#00ff00"/><rect x="371" y="172" width="1" height="8" fill="#ffffff"/><rect x="375" y="170" width="1" height="12" fill="#00ff00"/><rect x="374" y="176" width="3" height="5" fill="#00ff00"/><rect x="375" y="177" width="1" height="3" fill="#000"/><rect x="379" y="172" width="1" height="8" fill="#00ff00"/><rect x="378" y="174" width="3" height="5" fill="#00ff00"/><rect x="379" y="175" width="1" height="3" fill="#000"/><rect x="383" y="169" width="1" height="10" fill="#00ff00"/><rect x="382" y="174" width="3" height="3" fill="#00ff00"/><rect x="383" y="175" width="1" height="1" fill="#000"/><rect x="387" y="172" width="1" height="25" fill="#00ff00"/><rect x="386" y="175" width="3" height="11" fill="#00ff00"/><rect x="387" y="176" width="1" height="9" fill="#ffffff"/><rect x="391" y="176" width="1" height="14" fill="#00ff00"/><rect x="390" y="184" width="3" height="4" fill="#00ff00"/><rect x="391" y="185" width="1" height="2" fill="#ffffff"/><rect x="395" y="169" width="1" height="20" fill="#00ff00"/><rect x="394" y="171" width="3" height="16" fill="#00ff00"/><rect x="395" y="172" width="1" height="14" fill="#000"/><rect x="399" y="156" width="1" height="26" fill="#00ff00"/><rect x="398" y="171" width="3" height="5" fill="#00ff00"/><rect x="399" y="172" width="1" height="3" fill="#ffffff"/><rect x="403" y="164" width="1" height="16" fill="#00ff00"/><rect x="402" y="166" width="3" height="10" fill="#00ff00"/><rect x="403" y="167" width="1" height="8" fill="#000"/><rect x="407" y="161" width="1" height="9" fill="#00ff00"/><rect x="406" y="164" width="3" height="3" fill="#00ff00"/><rect x="407" y="165" width="1" height="1" fill="#000"/><rect x="411" y="154" width="1" height="13" fill="#00ff00"/><rect x="410" y="156" width="3" height="10" fill="#00ff00"/><rect x="411" y="157" width="1" height="8" fill="#000"/><rect x="415" y="131" width="1" height="29" fill="#00ff00"/><rect x="414" y="142" width="3" height="15" fill="#00ff00"/><rect x="415" y="143" width="1" height="13" fill="#000"/><rect x="419" y="130" width="1" height="26" fill="#00ff00"/><rect x="418" y="141" width="3" height="4" fill="#00ff00"/><rect x="419" y="142" width="1" height="2" fill="#000"/><rect x="423" y="138" width="1" height="15" fill="#00ff00"/><rect x="422" y="143" width="3" height="7" fill="#00ff00"/><rect x="423" y="144" width="1" height="5" fill="#ffffff"/><rect x="427" y="135" width="1" height="15" fill="#00ff00"/><rect x="426" y="140" width="3" height="9" fill="#00ff00"/><rect x="427" y="141" width="1" height="7" fill="#000"/><rect x="431" y="134" width="1" height="9" fill="#00ff00"/><rect x="430" y="136" width="3" height="6" fill="#00ff00"/><rect x="431" y="137" width="1" height="4" fill="#000"/><rect x="435" y="171" width="1" height="13" fill="#00ff00"/><rect x="434" y="172" width="3" height="11" fill="#00ff00"/><rect x="435" y="173" width="1" height="9" fill="#000"/><rect x="439" y="170" width="1" height="11" fill="#00ff00"/><rect x="438" y="171" width="3" height="4" fill="#00ff00"/><rect x="439" y="172" width="1" height="2" fill="#000"/><rect x="443" y="169" width="1" height="6" fill="#00ff00"/><rect x="442" y="171" width="3" height="2" fill="#00ff00"/><rect x="447" y="170" width="1" height="20" fill="#00ff00"/><rect x="446" y="171" width="3" height="11" fill="#00ff00"/><rect x="447" y="172" width="1" height="9" fill="#ffffff"/><rect x="451" y="179" width="1" height="24" fill="#00ff00"/><rect x="450" y="181" width="3" height="18" fill="#00ff00"/><rect x="451" y="182" width="1" height="16" fill="#ffffff"/><rect x="455" y="195" width="1" height="20" fill="#00ff00"/><rect x="454" y="198" width="3" height="13" fill="#00ff00"/><rect x="455" y="199" width="1" height="11" fill="#ffffff"/><rect x="459" y="208" width="1" height="21" fill="#00ff00"/><rect x="458" y="209" width="3" height="7" fill="#00ff00"/><rect x="459" y="210" width="1" height="5" fill="#ffffff"/><rect x="463" y="208" width="1" height="13" fill="#00ff00"/><rect x="462" y="214" width="3" height="2" fill="#00ff00"/><rect x="467" y="206" width="1" height="14" fill="#00ff00"/><rect x="466" y="208" width="3" height="9" fill="#00ff00"/><rect x="467" y="209" width="1" height="7" fill="#000"/><rect x="471" y="200" width="1" height="9" fill="#00ff00"/><rect x="470" y="204" width="3" height="4" fill="#00ff00"/><rect x="471" y="205" width="1" height="2" fill="#000"/><rect x="475" y="196" width="1" height="11" fill="#00ff00"/><rect x="474" y="198" width="3" height="8" fill="#00ff00"/><rect x="475" y="199" width="1" height="6" fill="#000"/><rect x="479" y="195" width="1" height="16" fill="#00ff00"/><rect x="478" y="196" width="3" height="10" fill="#00ff00"/><rect x="479" y="197" width="1" height="8" fill="#ffffff"/><rect x="483" y="199" width="1" height="16" fill="#00ff00"/><rect x="482" y="200" width="3" height="6" fill="#00ff00"/><rect x="483" y="201" width="1" height="4" fill="#000"/><rect x="487" y="199" width="1" height="11" fill="#00ff00"/><rect x="486" y="200" width="3" height="3" fill="#00ff00"/><rect x="487" y="201" width="1" height="1" fill="#ffffff"/><rect x="491" y="191" width="1" height="15" fill="#00ff00"/><rect x="490" y="192" width="3" height="11" fill="#00ff00"/><rect x="491" y="193" width="1" height="9" fill="#000"/><rect x="495" y="189" width="1" height="10" fill="#00ff00"/><rect x="494" y="192" width="3" height="5" fill="#00ff00"/><rect x="495" y="193" width="1" height="3" fill="#ffffff"/><rect x="499" y="194" width="1" height="22" fill="#00ff00"/><rect x="498" y="196" width="3" height="19" fill="#00ff00"/><rect x="499" y="197" width="1" height="17" fill="#ffffff"/><rect x="503" y="208" width="1" height="14" fill="#00ff00"/><rect x="502" y="209" width="3" height="6" fill="#00ff00"/><rect x="503" y="210" width="1" height="4" fill="#000"/><rect x="507" y="179" width="1" height="42" fill="#00ff00"/><rect x="506" y="181" width="3" height="29" fill="#00ff00"/><rect x="507" y="182" width="1" height="27" fill="#000"/><rect x="511" y="180" width="1" height="11" fill="#00ff00"/><rect x="510" y="182" width="3" height="6" fill="#00ff00"/><rect x="511" y="183" width="1" height="4" fill="#ffffff"/><rect x="515" y="179" width="1" height="11" fill="#00ff00"/><rect x="514" y="181" width="3" height="7" fill="#00ff00"/><rect x="515" y="182" width="1" height="5" fill="#000"/><rect x="519" y="180" width="1" height="17" fill="#00ff00"/><rect x="518" y="181" width="3" height="9" fill="#00ff00"/><rect x="519" y="182" width="1" height="7" fill="#ffffff"/><rect x="523" y="178" width="1" height="12" fill="#00ff00"/><rect x="522" y="186" width="3" height="3" fill="#00ff00"/><rect x="523" y="187" width="1" height="1" fill="#000"/><rect x="527" y="181" width="1" height="10" fill="#00ff00"/><rect x="526" y="184" width="3" height="3" fill="#00ff00"/><rect x="527" y="185" width="1" height="1" fill="#000"/><rect x="531" y="182" width="1" height="24" fill="#00ff00"/><rect x="530" y="184" width="3" height="7" fill="#00ff00"/><rect x="531" y="185" width="1" height="5" fill="#ffffff"/><rect x="535" y="189" width="1" height="10" fill="#00ff00"/><rect x="534" y="191" width="3" height="4" fill="#00ff00"/><rect x="535" y="192" width="1" height="2" fill="#ffffff"/><rect x="539" y="192" width="1" height="5" fill="#00ff00"/><rect x="538" y="193" width="3" height="2" fill="#00ff00"/><rect x="543" y="192" width="1" height="11" fill="#00ff00"/><rect x="542" y="194" width="3" height="5" fill="#00ff00"/><rect x="543" y="195" width="1" height="3" fill="#ffffff"/><rect x="547" y="190" width="1" height="13" fill="#00ff00"/><rect x="546" y="192" width="3" height="7" fill="#00ff00"/><rect x="547" y="193" width="1" height="5" fill="#000"/><rect x="551" y="178" width="1" height="19" fill="#00ff00"/><rect x="550" y="181" width="3" height="11" fill="#00ff00"/><rect x="551" y="182" width="1" height="9" fill="#000"/><rect x="555" y="139" width="1" height="44" fill="#00ff00"/><rect x="554" y="151" width="3" height="31" fill="#00ff00"/><rect x="555" y="152" width="1" height="29" fill="#000"/><rect x="559" y="148" width="1" height="11" fill="#00ff00"/><rect x="558" y="150" width="3" height="3" fill="#00ff00"/><rect x="559" y="151" width="1" height="1" fill="#ffffff"/><rect x="563" y="150" width="1" height="5" fill="#00ff00"/><rect x="562" y="151" width="3" height="2" fill="#00ff00"/><rect x="567" y="150" width="1" height="12" fill="#00ff00"/><rect x="566" y="152" width="3" height="7" fill="#00ff00"/><rect x="567" y="153" width="1" height="5" fill="#000"/><rect x="571" y="150" width="1" height="7" fill="#00ff00"/><rect x="570" y="151" width="3" height="4" fill="#00ff00"/><rect x="571" y="152" width="1" height="2" fill="#000"/><rect x="575" y="141" width="1" height="18" fill="#00ff00"/><rect x="574" y="144" width="3" height="11" fill="#00ff00"/><rect x="575" y="145" width="1" height="9" fill="#000"/><rect x="579" y="141" width="1" height="21" fill="#00ff00"/><rect x="578" y="142" width="3" height="18" fill="#00ff00"/><rect x="579" y="143" width="1" height="16" fill="#ffffff"/><rect x="583" y="159" width="1" height="43" fill="#00ff00"/><rect x="582" y="161" width="3" height="32" fill="#00ff00"/><rect x="583" y="162" width="1" height="30" fill="#ffffff"/><rect x="587" y="182" width="1" height="13" fill="#00ff00"/><rect x="586" y="184" width="3" height="9" fill="#00ff00"/><rect x="587" y="185" width="1" height="7" fill="#000"/><rect x="591" y="174" width="1" height="11" fill="#00ff00"/><rect x="590" y="176" width="3" height="7" fill="#00ff00"/><rect x="591" y="177" width="1" height="5" fill="#000"/><rect x="595" y="171" width="1" height="15" fill="#00ff00"/><rect x="594" y="176" width="3" height="4" fill="#00ff00"/><rect x="595" y="177" width="1" height="2" fill="#000"/><rect x="599" y="169" width="1" height="10" fill="#00ff00"/><rect x="598" y="171" width="3" height="6" fill="#00ff00"/><rect x="599" y="172" width="1" height="4" fill="#000"/><rect x="603" y="150" width="1" height="30" fill="#00ff00"/><rect x="602" y="171" width="3" height="5" fill="#00ff00"/><rect x="603" y="172" width="1" height="3" fill="#ffffff"/><rect x="607" y="170" width="1" height="18" fill="#00ff00"/><rect x="606" y="175" width="3" height="5" fill="#00ff00"/><rect x="607" y="176" width="1" height="3" fill="#ffffff"/><rect x="611" y="176" width="1" height="11" fill="#00ff00"/><rect x="610" y="178" width="3" height="3" fill="#00ff00"/><rect x="611" y="179" width="1" height="1" fill="#000"/><rect x="615" y="172" width="1" height="10" fill="#00ff00"/><rect x="614" y="176" width="3" height="5" fill="#00ff00"/><rect x="615" y="177" width="1" height="3" fill="#000"/><rect x="619" y="166" width="1" height="11" fill="#00ff00"/><rect x="618" y="167" width="3" height="8" fill="#00ff00"/><rect x="619" y="168" width="1" height="6" fill="#000"/><rect x="623" y="164" width="1" height="11" fill="#00ff00"/><rect x="622" y="166" width="3" height="8" fill="#00ff00"/><rect x="623" y="167" width="1" height="6" fill="#ffffff"/><rect x="627" y="166" width="1" height="30" fill="#00ff00"/><rect x="626" y="173" width="3" height="10" fill="#00ff00"/><rect x="627" y="174" width="1" height="8" fill="#ffffff"/><rect x="631" y="178" width="1" height="8" fill="#00ff00"/><rect x="630" y="179" width="3" height="4" fill="#00ff00"/><rect x="631" y="180" width="1" height="2" fill="#000"/><rect x="635" y="178" width="1" height="4" fill="#00ff00"/><rect x="634" y="179" width="3" height="2" fill="#00ff00"/><rect x="639" y="178" width="1" height="9" fill="#00ff00"/><rect x="638" y="179" width="3" height="3" fill="#00ff00"/><rect x="639" y="180" width="1" height="1" fill="#000"/><rect x="643" y="174" width="1" height="9" fill="#00ff00"/><rect x="642" y="179" width="3" height="3" fill="#00ff00"/><rect x="643" y="180" width="1" height="1" fill="#000"/><rect x="647" y="174" width="1" height="13" fill="#00ff00"/><rect x="646" y="177" width="3" height="3" fill="#00ff00"/><rect x="647" y="178" width="1" height="1" fill="#000"/><rect x="651" y="162" width="1" height="29" fill="#00ff00"/><rect x="650" y="176" width="3" height="4" fill="#00ff00"/><rect x="651" y="177" width="1" height="2" fill="#000"/><rect x="655" y="162" width="1" height="19" fill="#00ff00"/><rect x="654" y="168" width="3" height="12" fill="#00ff00"/><rect x="655" y="169" width="1" height="10" fill="#000"/><rect x="659" y="161" width="1" height="11" fill="#00ff00"/><rect x="658" y="165" width="3" height="4" fill="#00ff00"/><rect x="659" y="166" width="1" height="2" fill="#000"/><rect x="663" y="162" width="1" height="9" fill="#00ff00"/><rect x="662" y="164" width="3" height="5" fill="#00ff00"/><rect x="663" y="165" width="1" height="3" fill="#000"/><rect x="667" y="160" width="1" height="9" fill="#00ff00"/><rect x="666" y="163" width="3" height="5" fill="#00ff00"/><rect x="667" y="164" width="1" height="3" fill="#000"/><rect x="671" y="152" width="1" height="13" fill="#00ff00"/><rect x="670" y="160" width="3" height="4" fill="#00ff00"/><rect x="671" y="161" width="1" height="2" fill="#000"/><rect x="675" y="130" width="1" height="32" fill="#00ff00"/><rect x="674" y="144" width="3" height="17" fill="#00ff00"/><rect x="675" y="145" width="1" height="15" fill="#000"/><rect x="679" y="139" width="1" height="12" fill="#00ff00"/><rect x="678" y="144" width="3" height="3" fill="#00ff00"/><rect x="679" y="145" width="1" height="1" fill="#ffffff"/><rect x="683" y="144" width="1" height="7" fill="#00ff00"/><rect x="682" y="145" width="3" height="4" fill="#00ff00"/><rect x="683" y="146" width="1" height="2" fill="#ffffff"/><rect x="687" y="130" width="1" height="21" fill="#00ff00"/><rect x="686" y="135" width="3" height="14" fill="#00ff00"/><rect x="687" y="136" width="1" height="12" fill="#ffffff"/><rect x="691" y="145" width="1" height="11" fill="#00ff00"/><rect x="690" y="148" width="3" height="4" fill="#00ff00"/><rect x="691" y="149" width="1" height="2" fill="#ffffff"/><rect x="695" y="146" width="1" height="9" fill="#00ff00"/><rect x="694" y="150" width="3" height="3" fill="#00ff00"/><rect x="695" y="151" width="1" height="1" fill="#ffffff"/><rect x="699" y="151" width="1" height="29" fill="#00ff00"/><rect x="698" y="152" width="3" height="10" fill="#00ff00"/><rect x="699" y="153" width="1" height="8" fill="#ffffff"/><rect x="703" y="156" width="1" height="10" fill="#00ff00"/><rect x="702" y="159" width="3" height="3" fill="#00ff00"/><rect x="703" y="160" width="1" height="1" fill="#000"/><rect x="707" y="154" width="1" height="9" fill="#00ff00"/><rect x="706" y="157" width="3" height="4" fill="#00ff00"/><rect x="707" y="158" width="1" height="2" fill="#000"/><rect x="711" y="152" width="1" height="11" fill="#00ff00"/><rect x="710" y="156" width="3" height="4" fill="#00ff00"/><rect x="711" y="157" width="1" height="2" fill="#000"/><rect x="715" y="148" width="1" height="11" fill="#00ff00"/><rect x="714" y="152" width="3" height="5" fill="#00ff00"/><rect x="715" y="153" width="1" height="3" fill="#000"/><rect x="719" y="151" width="1" height="25" fill="#00ff00"/><rect x="718" y="152" width="3" height="11" fill="#00ff00"/><rect x="719" y="153" width="1" height="9" fill="#ffffff"/><rect x="723" y="143" width="1" height="28" fill="#00ff00"/><rect x="722" y="162" width="3" height="2" fill="#00ff00"/><rect x="727" y="141" width="1" height="26" fill="#00ff00"/><rect x="726" y="143" width="3" height="22" fill="#00ff00"/><rect x="727" y="144" width="1" height="20" fill="#000"/><rect x="731" y="140" width="1" height="13" fill="#00ff00"/><rect x="730" y="143" width="3" height="10" fill="#00ff00"/><rect x="731" y="144" width="1" height="8" fill="#ffffff"/><rect x="735" y="150" width="1" height="12" fill="#00ff00"/><rect x="734" y="152" width="3" height="1" fill="#00ff00"/><rect x="739" y="146" width="1" height="9" fill="#00ff00"/><rect x="738" y="150" width="3" height="3" fill="#00ff00"/><rect x="739" y="151" width="1" height="1" fill="#000"/><rect x="743" y="142" width="1" height="11" fill="#00ff00"/><rect x="742" y="144" width="3" height="7" fill="#00ff00"/><rect x="743" y="145" width="1" height="5" fill="#000"/><rect x="747" y="81" width="1" height="66" fill="#00ff00"/><rect x="746" y="88" width="3" height="58" fill="#00ff00"/><rect x="747" y="89" width="1" height="56" fill="#000"/><rect x="751" y="66" width="1" height="25" fill="#00ff00"/><rect x="750" y="69" width="3" height="21" fill="#00ff00"/><rect x="751" y="70" width="1" height="19" fill="#000"/><rect x="755" y="68" width="1" height="14" fill="#00ff00"/><rect x="754" y="68" width="3" height="13" fill="#00ff00"/><rect x="755" y="69" width="1" height="11" fill="#ffffff"/><rect x="759" y="78" width="1" height="9" fill="#00ff00"/><rect x="758" y="80" width="3" height="6" fill="#00ff00"/><rect x="759" y="81" width="1" height="4" fill="#ffffff"/><rect x="763" y="70" width="1" height="17" fill="#00ff00"/><rect x="762" y="73" width="3" height="13" fill="#00ff00"/><rect x="763" y="74" width="1" height="11" fill="#000"/><rect x="767" y="44" width="1" height="32" fill="#00ff00"/><rect x="766" y="50" width="3" height="25" fill="#00ff00"/><rect x="767" y="51" width="1" height="23" fill="#000"/><rect x="771" y="28" width="1" height="41" fill="#00ff00"/><rect x="770" y="34" width="3" height="17" fill="#00ff00"/><rect x="771" y="35" width="1" height="15" fill="#000"/><rect x="775" y="11" width="1" height="29" fill="#00ff00"/><rect x="774" y="27" width="3" height="8" fill="#00ff00"/><rect x="775" y="28" width="1" height="6" fill="#000"/><rect x="779" y="19" width="1" height="16" fill="#00ff00"/><rect x="778" y="27" width="3" height="5" fill="#00ff00"/><rect x="779" y="28" width="1" height="3" fill="#ffffff"/><rect x="783" y="30" width="1" height="11" fill="#00ff00"/><rect x="782" y="31" width="3" height="9" fill="#00ff00"/><rect x="783" y="32" width="1" height="7" fill="#ffffff"/><rect x="787" y="38" width="1" height="11" fill="#00ff00"/><rect x="786" y="39" width="3" height="7" fill="#00ff00"/><rect x="787" y="40" width="1" height="5" fill="#ffffff"/><rect x="791" y="32" width="1" height="15" fill="#00ff00"/><rect x="790" y="34" width="3" height="12" fill="#00ff00"/><rect x="791" y="35" width="1" height="10" fill="#000"/><rect x="795" y="24" width="1" height="27" fill="#00ff00"/><rect x="794" y="26" width="3" height="8" fill="#00ff00"/><rect x="795" y="27" width="1" height="6" fill="#000"/><rect x="799" y="15" width="1" height="21" fill="#00ff00"/><rect x="798" y="23" width="3" height="4" fill="#00ff00"/><rect x="799" y="24" width="1" height="2" fill="#000"/><rect x="803" y="22" width="1" height="5" fill="#00ff00"/><rect x="802" y="24" width="3" height="1" fill="#00ff00"/><rect x="807" y="24" width="1" height="9" fill="#00ff00"/><rect x="806" y="25" width="3" height="6" fill="#00ff00"/><rect x="807" y="26" width="1" height="4" fill="#ffffff"/>
</g>
<g id="frame" shape-rendering="crispEdges">
<rect x="2" y="0" width="1" height="249" fill="#ffffff"/><rect x="2" y="248" width="1011" height="1" fill="#ffffff"/><rect x="2" y="250" width="1" height="121" fill="#ffffff"/><rect x="2" y="250" width="1011" height="1" fill="#ffffff"/><rect x="2" y="370" width="1011" height="1" fill="#ffffff"/><rect x="2" y="372" width="1" height="123" fill="#ffffff"/><rect x="2" y="372" width="1011" height="1" fill="#ffffff"/><rect x="2" y="494" width="1011" height="1" fill="#ffffff"/><rect x="1012" y="0" width="1" height="4" fill="#ffffff"/><rect x="1012" y="25" width="1" height="470" fill="#ffffff"/><rect x="3" y="495" width="1" height="3" fill="#ffffff"/><rect x="67" y="495" width="1" height="3" fill="#ffffff"/><rect x="131" y="495" width="1" height="3" fill="#ffffff"/><rect x="195" y="495" width="1" height="3" fill="#ffffff"/><rect x="259" y="495" width="1" height="3" fill="#ffffff"/><rect x="323" y="495" width="1" height="3" fill="#ffffff"/><rect x="387" y="495" width="1" height="3" fill="#ffffff"/><rect x="451" y="495" width="1" height="3" fill="#ffffff"/><rect x="515" y="495" width="1" height="3" fill="#ffffff"/><rect x="579" y="495" width="1" height="3" fill="#ffffff"/><rect x="643" y="495" width="1" height="3" fill="#ffffff"/><rect x="707" y="495" width="1" height="3" fill="#ffffff"/><rect x="771" y="495" width="1" height="3" fill="#ffffff"/><rect x="1013" y="54" width="2" height="1" fill="#ffffff"/><rect x="1013" y="86" width="2" height="1" fill="#ffffff"/><rect x="1013" y="118" width="2" height="1" fill="#ffffff"/><rect x="1013" y="150" width="2" height="1" fill="#ffffff"/><rect x="1013" y="182" width="2" height="1" fill="#ffffff"/><rect x="1013" y="214" width="2" height="1" fill="#ffffff"/><rect x="1013" y="246" width="2" height="1" fill="#ffffff"/><rect x="1013" y="327" width="1" height="1" fill="#ffffff"/><rect x="1013" y="397" width="1" height="1" fill="#ffffff"/><rect x="1013" y="469" width="1" height="1" fill="#ffffff"/><rect x="1013" y="494" width="1" height="1" fill="#ffffff"/><rect x="3" y="29" width="827" height="1" fill="#7f8fa0"/><rect x="866" y="29" width="146" height="1" fill="#7f8fa0"/><rect x="3" y="94" width="1009" height="1" fill="#ffffff"/>
</g>
<g id="hist" shape-rendering="crispEdges">
<rect x="3" y="322" width="1" height="6" fill="#ff0000"/><rect x="7" y="324" width="1" height="4" fill="#ff0000"/><rect x="15" y="328" width="1" height="3" fill="#ffff00"/><rect x="19" y="328" width="1" height="4" fill="#ffff00"/><rect x="23" y="328" width="1" height="5" fill="#ffff00"/><rect x="27" y="328" width="1" height="8" fill="#ffff00"/><rect x="31" y="328" width="1" height="10" fill="#ffff00"/><rect x="35" y="328" width="1" height="7" fill="#ffff00"/><rect x="39" y="328" width="1" height="7" fill="#ffff00"/><rect x="43" y="328" width="1" height="5" fill="#ffff00"/><rect x="47" y="328" width="1" height="5" fill="#ffff00"/><rect x="51" y="328" width="1" height="4" fill="#ffff00"/><rect x="55" y="328" width="1" height="3" fill="#ffff00"/><rect x="59" y="328" width="1" height="1" fill="#ffff00"/><rect x="63" y="328" width="1" height="4" fill="#ffff00"/><rect x="67" y="328" width="1" height="8" fill="#ffff00"/><rect x="71" y="328" width="1" height="11" fill="#ffff00"/><rect x="75" y="328" width="1" height="12" fill="#ffff00"/><rect x="79" y="328" width="1" height="10" fill="#ffff00"/><rect x="83" y="328" width="1" height="9" fill="#ffff00"/><rect x="87" y="328" width="1" height="8" fill="#ffff00"/><rect x="91" y="328" width="1" height="9" fill="#ffff00"/><rect x="95" y="328" width="1" height="7" fill="#ffff00"/><rect x="99" y="328" width="1" height="3" fill="#ffff00"/><rect x="103" y="328" width="1" height="1" fill="#ffff00"/><rect x="107" y="328" width="1" height="3" fill="#ffff00"/><rect x="111" y="328" width="1" height="3" fill="#ffff00"/><rect x="115" y="328" width="1" height="3" fill="#ffff00"/><rect x="119" y="328" width="1" height="3" fill="#ffff00"/><rect x="123" y="328" width="1" height="3" fill="#ffff00"/><rect x="127" y="328" width="1" height="7" fill="#ffff00"/><rect x="131" y="328" width="1" height="22" fill="#ffff00"/><rect x="135" y="328" width="1" height="29" fill="#ffff00"/><rect x="139" y="328" width="1" height="29" fill="#ffff00"/><rect x="143" y="328" width="1" height="28" fill="#ffff00"/><rect x="147" y="328" width="1" height="31" fill="#ffff00"/><rect x="151" y="328" width="1" height="32" fill="#ffff00"/><rect x="155" y="328" width="1" height="35" fill="#ffff00"/><rect x="159" y="328" width="1" height="34" fill="#ffff00"/><rect x="163" y="328" width="1" height="33" fill="#ffff00"/><rect x="167" y="328" width="1" height="27" fill="#ffff00"/><rect x="171" y="328" width="1" height="22" fill="#ffff00"/><rect x="175" y="328" width="1" height="16" fill="#ffff00"/><rect x="179" y="328" width="1" height="9" fill="#ffff00"/><rect x="183" y="328" width="1" height="5" fill="#ffff00"/><rect x="191" y="322" width="1" height="6" fill="#ff0000"/><rect x="195" y="319" width="1" height="9" fill="#ff0000"/><rect x="199" y="316" width="1" height="12" fill="#ff0000"/><rect x="203" y="300" width="1" height="28" fill="#ff0000"/><rect x="207" y="294" width="1" height="34" fill="#ff0000"/><rect x="211" y="290" width="1" height="38" fill="#ff0000"/><rect x="215" y="287" width="1" height="41" fill="#ff0000"/><rect x="219" y="290" width="1" height="38" fill="#ff0000"/><rect x="223" y="288" width="1" height="40" fill="#ff0000"/><rect x="227" y="286" width="1" height="42" fill="#ff0000"/><rect x="231" y="292" width="1" height="36" fill="#ff0000"/><rect x="235" y="299" width="1" height="29" fill="#ff0000"/><rect x="239" y="305" width="1" height="23" fill="#ff0000"/><rect x="243" y="312" width="1" height="16" fill="#ff0000"/><rect x="247" y="319" width="1" height="9" fill="#ff0000"/><rect x="251" y="314" width="1" height="14" fill="#ff0000"/><rect x="255" y="310" width="1" height="18" fill="#ff0000"/><rect x="259" y="310" width="1" height="18" fill="#ff0000"/><rect x="263" y="311" width="1" height="17" fill="#ff0000"/><rect x="267" y="314" width="1" height="14" fill="#ff0000"/><rect x="271" y="316" width="1" height="12" fill="#ff0000"/><rect x="275" y="321" width="1" height="7" fill="#ff0000"/><rect x="279" y="323" width="1" height="5" fill="#ff0000"/><rect x="283" y="326" width="1" height="2" fill="#ff0000"/><rect x="287" y="328" width="1" height="2" fill="#ffff00"/><rect x="291" y="328" width="1" height="3" fill="#ffff00"/><rect x="295" y="328" width="1" height="2" fill="#ffff00"/><rect x="299" y="328" width="1" height="3" fill="#ffff00"/><rect x="303" y="328" width="1" height="7" fill="#ffff00"/><rect x="307" y="328" width="1" height="9" fill="#ffff00"/><rect x="311" y="328" width="1" height="13" fill="#ffff00"/><rect x="315" y="328" width="1" height="15" fill="#ffff00"/><rect x="319" y="328" width="1" height="17" fill="#ffff00"/><rect x="323" y="328" width="1" height="19" fill="#ffff00"/><rect x="327" y="328" width="1" height="23" fill="#ffff00"/><rect x="331" y="328" width="1" height="24" fill="#ffff00"/><rect x="335" y="328" width="1" height="25" fill="#ffff00"/><rect x="339" y="328" width="1" height="24" fill="#ffff00"/><rect x="343" y="328" width="1" height="25" fill="#ffff00"/><rect x="347" y="328" width="1" height="28" fill="#ffff00"/><rect x="351" y="328" width="1" height="29" fill="#ffff00"/><rect x="355" y="328" width="1" height="30" fill="#ffff00"/><rect x="359" y="328" width="1" height="27" fill="#ffff00"/><rect x="363" y="328" width="1" height="23" fill="#ffff00"/><rect x="367" y="328" width="1" height="19" fill="#ffff00"/><rect x="371" y="328" width="1" height="17" fill="#ffff00"/><rect x="375" y="328" width="1" height="14" fill="#ffff00"/><rect x="379" y="328" width="1" height="12" fill="#ffff00"/><rect x="383" y="328" width="1" height="9" fill="#ffff00"/><rect x="387" y="328" width="1" height="9" fill="#ffff00"/><rect x="391" y="328" width="1" height="7" fill="#ffff00"/><rect x="395" y="328" width="1" height="3" fill="#ffff00"/><rect x="403" y="324" width="1" height="4" fill="#ff0000"/><rect x="407" y="320" width="1" height="8" fill="#ff0000"/><rect x="411" y="316" width="1" height="12" fill="#ff0000"/><rect x="415" y="310" width="1" height="18" fill="#ff0000"/><rect x="419" y="308" width="1" height="20" fill="#ff0000"/><rect x="423" y="308" width="1" height="20" fill="#ff0000"/><rect x="427" y="307" width="1" height="21" fill="#ff0000"/><rect x="431" y="306" width="1" height="22" fill="#ff0000"/><rect x="435" y="318" width="1" height="10" fill="#ff0000"/><rect x="439" y="323" width="1" height="5" fill="#ff0000"/><rect x="447" y="328" width="1" height="4" fill="#ffff00"/><rect x="451" y="328" width="1" height="11" fill="#ffff00"/><rect x="455" y="328" width="1" height="17" fill="#ffff00"/><rect x="459" y="328" width="1" height="22" fill="#ffff00"/><rect x="463" y="328" width="1" height="25" fill="#ffff00"/><rect x="467" y="328" width="1" height="23" fill="#ffff00"/><rect x="471" y="328" width="1" height="18" fill="#ffff00"/><rect x="475" y="328" width="1" height="13" fill="#ffff00"/><rect x="479" y="328" width="1" height="11" fill="#ffff00"/><rect x="483" y="328" width="1" height="7" fill="#ffff00"/><rect x="487" y="328" width="1" height="4" fill="#ffff00"/><rect x="491" y="328" width="1" height="1" fill="#ffff00"/><rect x="495" y="325" width="1" height="3" fill="#ff0000"/><rect x="507" y="320" width="1" height="8" fill="#ff0000"/><rect x="511" y="317" width="1" height="11" fill="#ff0000"/><rect x="515" y="314" width="1" height="14" fill="#ff0000"/><rect x="519" y="314" width="1" height="14" fill="#ff0000"/><rect x="523" y="314" width="1" height="14" fill="#ff0000"/><rect x="527" y="314" width="1" height="14" fill="#ff0000"/><rect x="531" y="316" width="1" height="12" fill="#ff0000"/><rect x="535" y="320" width="1" height="8" fill="#ff0000"/><rect x="539" y="322" width="1" height="6" fill="#ff0000"/><rect x="543" y="323" width="1" height="5" fill="#ff0000"/><rect x="547" y="323" width="1" height="5" fill="#ff0000"/><rect x="551" y="321" width="1" height="7" fill="#ff0000"/><rect x="555" y="311" width="1" height="17" fill="#ff0000"/><rect x="559" y="306" width="1" height="22" fill="#ff0000"/><rect x="563" y="304" width="1" height="24" fill="#ff0000"/><rect x="567" y="305" width="1" height="23" fill="#ff0000"/><rect x="571" y="306" width="1" height="22" fill="#ff0000"/><rect x="575" y="306" width="1" height="22" fill="#ff0000"/><rect x="579" y="311" width="1" height="17" fill="#ff0000"/><rect x="583" y="325" width="1" height="3" fill="#ff0000"/><rect x="587" y="328" width="1" height="3" fill="#ffff00"/><rect x="591" y="328" width="1" height="5" fill="#ffff00"/><rect x="595" y="328" width="1" height="5" fill="#ffff00"/><rect x="599" y="328" width="1" height="5" fill="#ffff00"/><rect x="603" y="328" width="1" height="5" fill="#ffff00"/><rect x="607" y="328" width="1" height="7" fill="#ffff00"/><rect x="611" y="328" width="1" height="8" fill="#ffff00"/><rect x="615" y="328" width="1" height="7" fill="#ffff00"/><rect x="619" y="328" width="1" height="4" fill="#ffff00"/><rect x="623" y="328" width="1" height="3" fill="#ffff00"/><rect x="627" y="328" width="1" height="5" fill="#ffff00"/><rect x="631" y="328" width="1" height="6" fill="#ffff00"/><rect x="635" y="328" width="1" height="6" fill="#ffff00"/><rect x="639" y="328" width="1" height="5" fill="#ffff00"/><rect x="643" y="328" width="1" height="5" fill="#ffff00"/><rect x="647" y="328" width="1" height="4" fill="#ffff00"/><rect x="651" y="328" width="1" height="3" fill="#ffff00"/><rect x="659" y="325" width="1" height="3" fill="#ff0000"/><rect x="663" y="324" width="1" height="4" fill="#ff0000"/><rect x="667" y="323" width="1" height="5" fill="#ff0000"/><rect x="671" y="322" width="1" height="6" fill="#ff0000"/><rect x="675" y="318" width="1" height="10" fill="#ff0000"/><rect x="679" y="316" width="1" height="12" fill="#ff0000"/><rect x="683" y="316" width="1" height="12" fill="#ff0000"/><rect x="687" y="316" width="1" height="12" fill="#ff0000"/><rect x="691" y="318" width="1" height="10" fill="#ff0000"/><rect x="695" y="321" width="1" height="7" fill="#ff0000"/><rect x="699" y="325" width="1" height="3" fill="#ff0000"/><rect x="707" y="328" width="1" height="1" fill="#ffff00"/><rect x="711" y="328" width="1" height="1" fill="#ffff00"/><rect x="715" y="328" width="1" height="1" fill="#ffff00"/><rect x="719" y="328" width="1" height="4" fill="#ffff00"/><rect x="723" y="328" width="1" height="6" fill="#ffff00"/><rect x="727" y="328" width="1" height="1" fill="#ffff00"/><rect x="731" y="328" width="1" height="1" fill="#ffff00"/><rect x="735" y="328" width="1" height="1" fill="#ffff00"/><rect x="739" y="328" width="1" height="1" fill="#ffff00"/><rect x="747" y="311" width="1" height="17" fill="#ff0000"/><rect x="751" y="298" width="1" height="30" fill="#ff0000"/><rect x="755" y="294" width="1" height="34" fill="#ff0000"/><rect x="759" y="294" width="1" height="34" fill="#ff0000"/><rect x="763" y="294" width="1" height="34" fill="#ff0000"/><rect x="767" y="290" width="1" height="38" fill="#ff0000"/><rect x="771" y="287" width="1" height="41" fill="#ff0000"/><rect x="775" y="284" width="1" height="44" fill="#ff0000"/><rect x="779" y="288" width="1" height="40" fill="#ff0000"/><rect x="783" y="294" width="1" height="34" fill="#ff0000"/><rect x="787" y="302" width="1" height="26" fill="#ff0000"/><rect x="791" y="308" width="1" height="20" fill="#ff0000"/><rect x="795" y="311" width="1" height="17" fill="#ff0000"/><rect x="799" y="314" width="1" height="14" fill="#ff0000"/><rect x="803" y="318" width="1" height="10" fill="#ff0000"/><rect x="807" y="324" width="1" height="4" fill="#ff0000"/>
</g>
<g id="lines" shape-rendering="crispEdges">
<line x1="299.5" y1="94.5" x2="1012" y2="218" stroke="#fff" stroke-width="1"/>
<line x1="460" y1="227.5" x2="1012" y2="117" stroke="#fff" stroke-width="1"/>
<polyline points="3,288 15,292.5 32.5,299.5 57.5,300 75,308.8 95,312.5 107.5,310 122.5,313 130,322.5 140,337.5 150,350 160,360 170,364.5 180,361.2 190,355 200,346.2 210,325 220,307.5 230,297 237.5,297.5 247.5,301.2 262.5,287.5 270.5,288.8 280.5,290.5 290.5,293.8 300.5,296.2 313,305 325.5,316.2 338,326.2 350.5,337.5 363,346.2 375.5,349.5 388,350 391.8,351.2 403,345 413,336.2 423,327.5 431.8,322 438,325 448,335 455.5,346.2 463,352.5 468,355.5 478,354.5 488,351.2 495.5,348.8 503,349.5 513,340 520.5,336.2 525.5,335 538.5,332.5 551,330 558.5,320 566,311.2 576,306.2 579.8,308.8 586,317 596,320 608.5,322.5 626,324.5 638.5,326.2 651,327.5 663.5,323.8 673.5,317.5 681,313 688.5,312 698.5,313.8 706,316.2 716,317 723.5,319.5 731,317.5 738.5,318 740,317.5 745,310 752.5,295 762.5,283.8 767.5,275 772.5,265 777.5,260 782.5,257.5 790,258 797.5,257.5 802.5,258.2 807,260" fill="none" stroke="#4a8fc6" stroke-width="1" />
<polyline points="3,291.2 25,292.5 50,297.5 65,299.2 92.5,308.8 125,311.2 140,322.5 155,337.5 170,351.2 180,355.5 190,356.2 200,352.5 212.5,340 225,325 237.5,310 250,303.8 262.5,297.5 273,293.8 283,293 300.5,294.5 313,298.8 323,303.8 338,315 350.5,325 363,335 375.5,342.5 388,346.2 400.5,347 413,343.8 425.5,336.2 435.5,330 443,329.5 450.5,332.5 463,341.2 475.5,347.5 488,350 503,349.5 513,345 525.5,342.5 538.5,336.2 551,333.8 563.5,326.2 576,318 583.5,315.5 593.5,317 608.5,320 626,322.5 638.5,325 653.5,326.2 666,323.8 676,321.2 688.5,317.5 698.5,315.5 711,316.2 726,317.5 738.5,318 740,318 747.5,313.8 755,306.2 765,295 775,282.5 782.5,274.5 790,268.8 797.5,264.5 807,262" fill="none" stroke="#ffff00" stroke-width="1" />
<polyline points="3.5,412 7.5,412 11.5,418.2 15.5,415.8 19.5,415.8 23.5,414.5 27.5,422 31.5,420.8 35.5,414.5 39.5,415.8 43.5,417.5 47.5,414.5 51.5,412 55.5,412 59.5,409 63.5,425.8 67.5,429 71.5,430.8 75.5,428.2 79.5,421.5 83.5,420 87.5,425.8 91.5,428.2 95.5,421.5 99.5,417.5 103.5,416.5 107.5,428.2 111.5,424.5 115.5,425 119.5,425.8 123.5,422.8 127.5,438.2 131.5,455.8 135.5,454 139.5,451.5 143.5,451.5 147.5,455 151.5,457.5 155.5,462.5 159.5,462.5 163.5,462.5 167.5,457.8 171.5,457 175.5,451.5 179.5,445.8 183.5,448.2 187.5,445.8 191.5,438.2 195.5,436.5 199.5,437.5 203.5,411.5 207.5,417 211.5,414.5 215.5,413.2 219.5,417.5 223.5,409 227.5,407 231.5,418.2 235.5,420 239.5,420.8 243.5,424 247.5,427 251.5,414 255.5,412 259.5,411.5 263.5,412 267.5,413.2 271.5,412 275.5,420 279.5,416.5 283.5,419.5 287.5,422 291.5,418.2 295.5,416.2 299.5,418.2 303.5,424 307.5,426.5 311.5,429 315.5,431.5 319.5,429.5 323.5,439 327.5,442.5 331.5,443.2 335.5,443.2 339.5,443.2 343.5,447 347.5,455.8 351.5,457.5 355.5,459.5 359.5,455 363.5,451.5 367.5,451.5 371.5,455.2 375.5,454 379.5,449.5 383.5,450.8 387.5,456.5 391.5,456.5 395.5,440.8 399.5,443.2 403.5,435.8 407.5,433.2 411.5,426.5 415.5,419 419.5,419 423.5,424 427.5,419.5 431.5,418.2 435.5,443.2 439.5,441.5 443.5,443.2 447.5,448.2 451.5,453.2 455.5,458.2 459.5,460.2 463.5,460.2 467.5,454.5 471.5,450 475.5,445.8 479.5,449 483.5,445.8 487.5,447 491.5,438.2 495.5,440 499.5,449.5 503.5,447 507.5,430.8 511.5,433.2 515.5,429.5 519.5,434.5 523.5,432.8 527.5,431.5 531.5,435 535.5,437.5 539.5,437.5 543.5,439.5 547.5,435 551.5,428.2 555.5,414.5 559.5,415.8 563.5,415.8 567.5,415.8 571.5,415.8 575.5,411.5 579.5,425.8 583.5,442.5 587.5,437.5 591.5,434.5 595.5,434.5 599.5,431.5 603.5,433.2 607.5,435.8 611.5,436.5 615.5,433.2 619.5,428.2 623.5,433.2 627.5,438.2 631.5,435.8 635.5,436.5 639.5,436.5 643.5,435 647.5,433.2 651.5,435 655.5,426.5 659.5,425 663.5,428.2 667.5,424.5 671.5,422.8 675.5,413.2 679.5,413.2 683.5,417 687.5,416.5 691.5,420.8 695.5,422.5 699.5,431.5 703.5,430 707.5,427.8 711.5,425.8 715.5,423.2 719.5,434.5 723.5,434.5 727.5,419 731.5,427.5 735.5,427.5 739.5,426.5 743.5,422 747.5,400.8 751.5,396.5 755.5,404 759.5,407 763.5,404 767.5,399 771.5,397 775.5,396.2 779.5,399.5 783.5,404.5 787.5,408.2 791.5,405 795.5,402.8 799.5,402 803.5,403.2 807.5,406.5" fill="none" stroke="#1e90ff" stroke-width="1" />
<line x1="3" y1="397.5" x2="1012" y2="397.5" stroke="#dcdcdc" stroke-width="1" stroke-dasharray="3.3 2.5"/>
<line x1="3" y1="469.5" x2="1012" y2="469.5" stroke="#dcdcdc" stroke-width="1" stroke-dasharray="3.3 2.5"/>
</g>
<g id="labels">
<text x="7.3" y="10.8" fill="#fff">GLD,H4&#160; 993.35 993.60 990.90 992.10</text><text x="7.4" y="264" fill="#fff" textLength="189.5" lengthAdjust="spacingAndGlyphs">MACD(12,26,9) 9.8883 9.5813 0.6142 0.0000</text><text x="7.3" y="386" fill="#fff">RSI(14) 72.3956</text><text x="2.5" y="507" fill="#fff">21 Jul 2009</text><text x="66.5" y="507" fill="#fff">23 Jul 20:00</text><text x="130.5" y="507" fill="#fff">28 Jul 12:00</text><text x="194.5" y="507" fill="#fff">31 Jul 04:00</text><text x="258.5" y="507" fill="#fff">4 Aug 20:00</text><text x="322.5" y="507" fill="#fff">7 Aug 12:00</text><text x="386.5" y="507" fill="#fff">12 Aug 04:00</text><text x="450.5" y="507" fill="#fff">17 Aug 04:00</text><text x="514.5" y="507" fill="#fff">19 Aug 20:00</text><text x="578.5" y="507" fill="#fff">24 Aug 12:00</text><text x="642.5" y="507" fill="#fff">27 Aug 04:00</text><text x="706.5" y="507" fill="#fff">31 Aug 20:00</text><text x="770.5" y="507" fill="#fff">3 Sep 12:00</text><text x="1018.2" y="56.8" fill="#fff">984.30</text><text x="1018.2" y="88.8" fill="#fff">974.10</text><text x="1018.2" y="120.8" fill="#fff">964.20</text><text x="1018.2" y="152.8" fill="#fff">954.30</text><text x="1018.2" y="184.8" fill="#fff">944.10</text><text x="1018.2" y="216.8" fill="#fff">934.20</text><text x="1018.2" y="248.8" fill="#fff">924.30</text><text x="1016.3" y="261" fill="#fff">10.2126</text><text x="1016.2" y="330.3" fill="#fff">0.00</text><text x="1016.2" y="367" fill="#fff">-6.2981</text><text x="1016.5" y="383" fill="#fff">100</text><text x="1015.5" y="400.5" fill="#fff">80</text><text x="1015.5" y="472" fill="#fff">20</text><text x="1016.2" y="490.6" fill="#fff">0</text>
<text x="1037.3" y="24.6" fill="#fff">20</text>
<rect x="1014" y="25" width="37" height="9" fill="#fff"/><rect x="1038" y="23" width="13" height="3" fill="#fff"/><rect x="1014" y="88" width="37" height="11" fill="#fff"/>
<text x="1018.2" y="32.2" fill="#191970">992.10</text><text x="1018.2" y="97.2" fill="#191970">971.78</text>
</g>
<g id="ann">
<path d="M737 51H823V50H908.5" fill="none" stroke="#fff" stroke-width="2.6"/>
<path d="M908 50v-2.5" stroke="#fff" stroke-width="1.5"/>
<path d="M813.5 26.2L815.2 35.6L822.3 27.8L826.8 48.5M820.3 41.8L826.8 48.8L827.2 35" fill="none" stroke="#fff" stroke-width="2" stroke-linejoin="miter"/>
<ellipse cx="807.6" cy="260.9" rx="15.5" ry="15.9" fill="none" stroke="#fff" stroke-width="2"/>
<path d="M804 0h10l-5 5.5z" fill="#8796a0"/>
<path d="M3 489v5h5z" fill="#8796a0"/>
<text x="839.5" y="236.6" fill="#fff" textLength="207" lengthAdjust="spacing" style="font-family:'Liberation Sans','Noto Sans CJK SC',sans-serif;font-size:21px;font-weight:bold;">macd已经出现死叉前</text>
<text x="839.6" y="257.6" fill="#fff" textLength="194.5" lengthAdjust="spacing" style="font-family:'Liberation Sans','Noto Sans CJK SC',sans-serif;font-size:21px;font-weight:bold;">期雏形,预计金价涨</text>
<text x="839.9" y="278.5" fill="#fff" textLength="194" lengthAdjust="spacing" style="font-family:'Liberation Sans','Noto Sans CJK SC',sans-serif;font-size:21px;font-weight:bold;">势将停止,回落机会</text>
<text x="839.7" y="299.4" fill="#fff" textLength="193" lengthAdjust="spacing" style="font-family:'Liberation Sans','Noto Sans CJK SC',sans-serif;font-size:21px;font-weight:bold;">较大,预计金价将向</text>
<text x="838.5" y="320.3" fill="#fff" textLength="80.5" lengthAdjust="spacing" style="font-family:'Liberation Sans','Noto Sans CJK SC',sans-serif;font-size:21px;font-weight:bold;">985回落</text>
<text x="878" y="74.4" fill="#fff" stroke="#fff" stroke-width="0.45" textLength="34.5" lengthAdjust="spacing" style="font-family:'Liberation Sans',sans-serif;font-size:21px;">985</text>
<text x="33" y="31.9" fill="#fff" stroke="#fff" stroke-width="0.45" textLength="70.5" lengthAdjust="spacing" style="font-family:'Liberation Sans',sans-serif;font-size:20px;">GLD 4h</text>
</g>
</svg>
</body></html>
